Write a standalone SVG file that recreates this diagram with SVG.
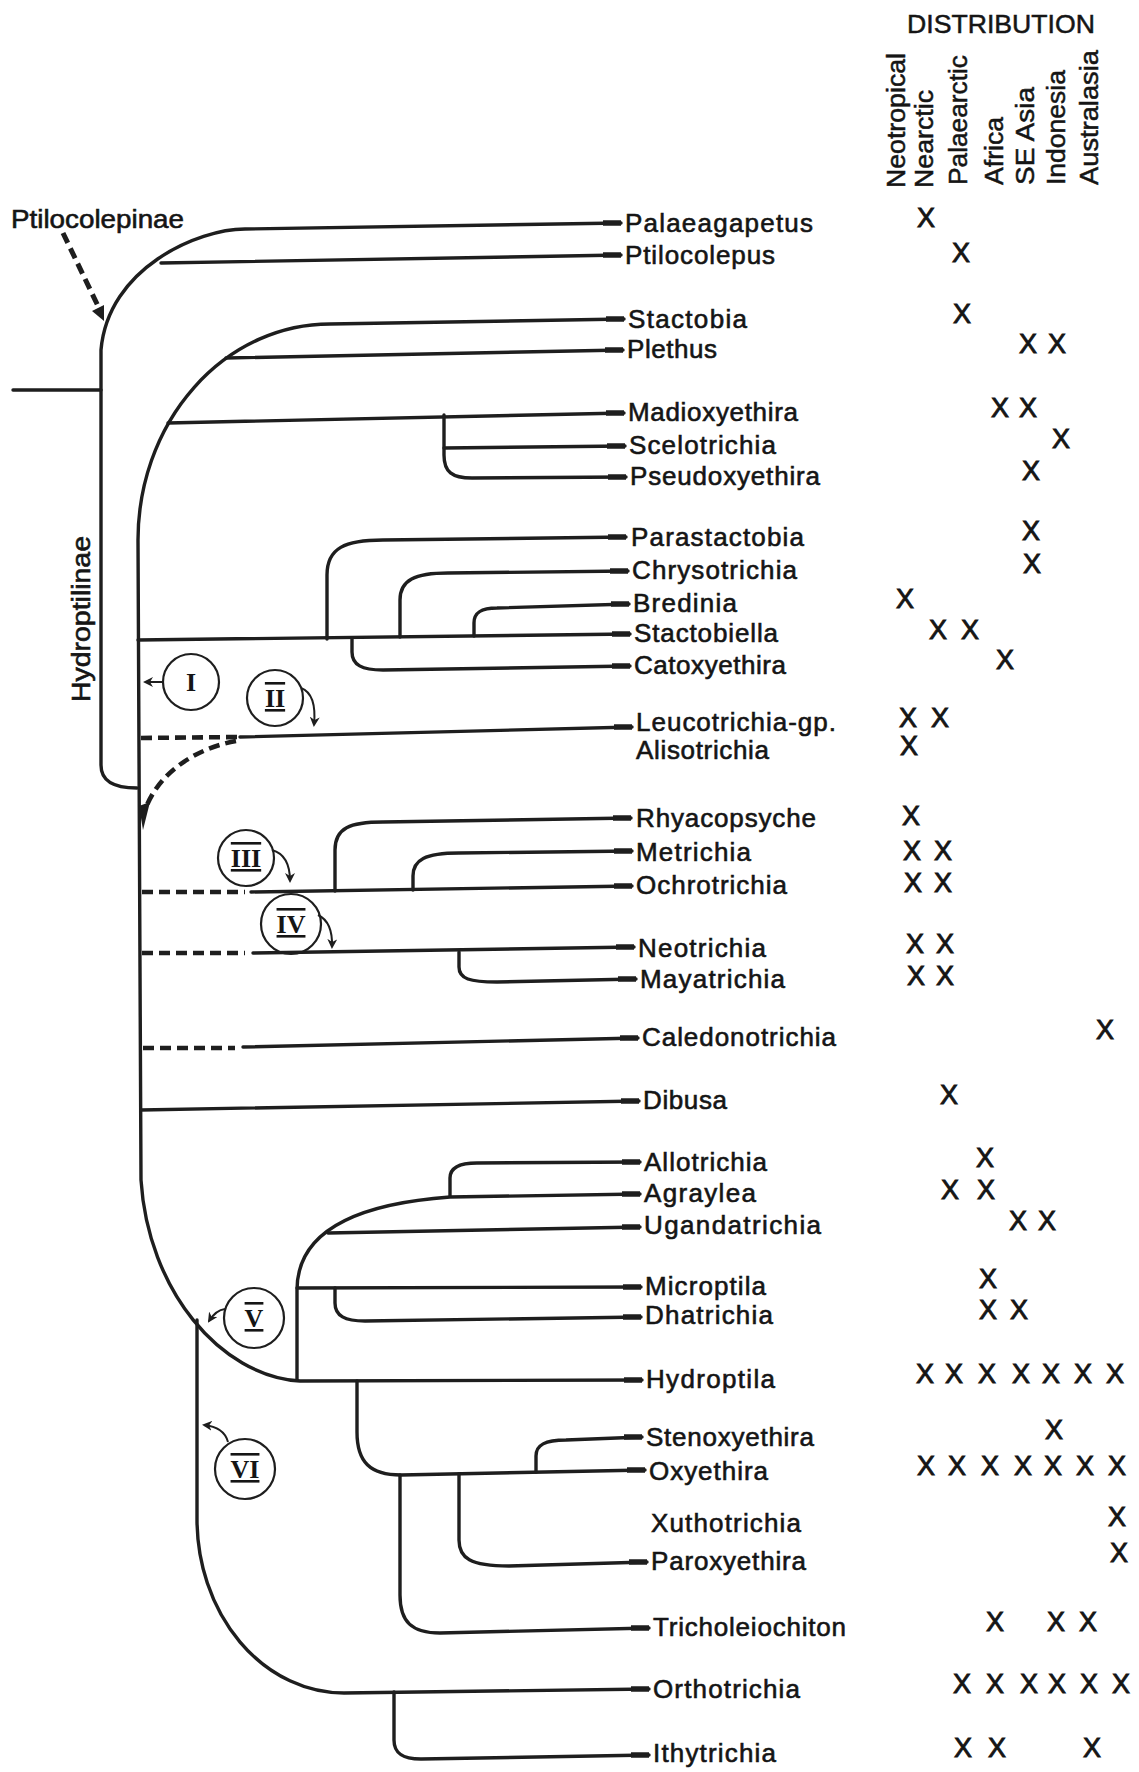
<svg xmlns="http://www.w3.org/2000/svg" width="1139" height="1772" viewBox="0 0 1139 1772">
<style>
.br{fill:none;stroke:#1e1e1e;stroke-width:3.4;stroke-linecap:round;stroke-linejoin:round}
.tk{fill:none;stroke:#1e1e1e;stroke-width:5.5}
.ds{fill:none;stroke:#1e1e1e;stroke-width:4.6;stroke-dasharray:11 6}
.th{fill:none;stroke:#1e1e1e;stroke-width:2}
.lb{font-family:"Liberation Sans",Arial,sans-serif;font-size:26px;fill:#151515;stroke:#151515;stroke-width:0.6}
.x{font-family:"Liberation Sans",Arial,sans-serif;font-size:27px;fill:#151515;stroke:#151515;stroke-width:0.9;text-anchor:middle}
.hd{font-family:"Liberation Sans",Arial,sans-serif;font-size:26px;fill:#151515;stroke:#151515;stroke-width:0.5}
.cir{fill:none;stroke:#1e1e1e;stroke-width:2.2}
.rn{font-family:"Liberation Serif","Times New Roman",serif;font-size:26px;font-weight:bold;fill:#151515;text-anchor:middle}
.bar{text-decoration:underline overline}
</style>
<defs>
<marker id="ah" viewBox="0 0 10 10" refX="8" refY="5" markerWidth="5" markerHeight="5" orient="auto" markerUnits="strokeWidth"><path d="M0,0 L10,5 L0,10 L3,5 z" fill="#1e1e1e"/></marker>
</defs>

<g id="connectors">
<path class="br" d="M13,390 L101,390"/>
<path class="br" d="M621,223 L245,229 C198,229 108,268 101,350 L101,765 C101,781 113,788 137,788"/>
<path class="br" d="M161,263 L621,255"/>
<path class="br" d="M624,319 L330,324 A192,216 0 0 0 138,540 L141,1180 C148,1290 220,1376 300,1381 L642,1380"/>
<path class="br" d="M226,358 L623,350"/>
<path class="br" d="M168,423 L624,413"/>
<path class="br" d="M444,415 L444,455 C444,472 452,478 472,478 L626,477"/>
<path class="br" d="M444,448 L625,446"/>
<path class="br" d="M138,640 L630,634"/>
<path class="br" d="M327,639 L327,575 C327,548 345,540 383,540 L626,537"/>
<path class="br" d="M400,637 L400,600 C400,580 415,573 448,573 L628,571"/>
<path class="br" d="M474,636 L474,623 C474,612 482,608 497,608 L629,604"/>
<path class="br" d="M352,638 L352,652 C352,665 362,670 383,670 L630,666"/>
<path class="ds" d="M141,738 L238,737"/>
<path class="br" d="M240,737 L632,727"/>
<path class="ds" d="M236,741 C198,748 162,770 147,805"/>
<path d="M139,806 L150,802 L143,830 z" fill="#1e1e1e"/>
<path class="br" d="M335,891 L335,850 C335,828 350,822 383,822 L631,818"/>
<path class="br" d="M413,890 L413,876 C413,860 425,853 459,853 L632,851"/>
<path class="ds" d="M142,892 L245,892"/>
<path class="br" d="M251,892 L632,886"/>
<path class="ds" d="M142,953 L245,953"/>
<path class="br" d="M253,953 L634,947"/>
<path class="br" d="M459,952 L459,967 C459,979 470,982 497,982 L636,979"/>
<path class="ds" d="M143,1048 L235,1048"/>
<path class="br" d="M243,1047 L638,1038"/>
<path class="br" d="M141,1110 L639,1101"/>
<path class="br" d="M297,1380 L297,1290 C297,1240 340,1205 450,1197 L640,1194"/>
<path class="br" d="M450,1196 L450,1178 C450,1167 460,1163 477,1163 L640,1162"/>
<path class="br" d="M328,1233 L640,1227"/>
<path class="br" d="M297,1288 L641,1287"/>
<path class="br" d="M335,1288 L335,1303 C335,1316 345,1321 365,1321 L641,1317"/>
<path class="br" d="M357,1381 L357,1432 C357,1462 370,1475 401,1475 L645,1470"/>
<path class="br" d="M400,1475 L400,1595 C400,1622 412,1633 440,1633 L649,1628"/>
<path class="br" d="M459,1474 L459,1540 C459,1558 470,1566 509,1566 L647,1562"/>
<path class="br" d="M536,1472 L536,1456 C536,1445 545,1440 566,1440 L642,1437"/>
<path class="br" d="M197,1320 L197,1519 A147,174 0 0 0 344,1693 L649,1689"/>
<path class="br" d="M394,1692 L394,1740 C394,1753 402,1759 421,1759 L649,1755"/>
<g class="tk">
<path d="M603,223 L621,223"/><path d="M603,255 L621,255"/><path d="M606,319 L624,319"/><path d="M605,350 L623,350"/>
<path d="M606,413 L624,413"/><path d="M607,446 L625,446"/><path d="M608,477 L626,477"/><path d="M608,537 L626,537"/>
<path d="M610,571 L628,571"/><path d="M611,604 L629,604"/><path d="M612,634 L630,634"/><path d="M612,666 L630,666"/>
<path d="M614,727 L632,727"/><path d="M613,818 L631,818"/><path d="M614,851 L632,851"/><path d="M614,886 L632,886"/>
<path d="M616,947 L634,947"/><path d="M618,979 L636,979"/><path d="M620,1038 L638,1038"/><path d="M621,1101 L639,1101"/>
<path d="M622,1162 L640,1162"/><path d="M622,1194 L640,1194"/><path d="M622,1227 L640,1227"/><path d="M623,1287 L641,1287"/>
<path d="M623,1317 L641,1317"/><path d="M624,1380 L642,1380"/><path d="M624,1437 L642,1437"/><path d="M627,1470 L645,1470"/>
<path d="M629,1562 L647,1562"/><path d="M631,1628 L649,1628"/><path d="M631,1689 L649,1689"/><path d="M631,1755 L649,1755"/>
</g>
<path class="ds" d="M63,233 L99,308" style="stroke-width:5"/>
<path d="M104,321 L104,305 L92,311 z" fill="#1e1e1e"/>
<path class="th" marker-end="url(#ah)" d="M163,682 L145,682"/>
<path class="th" marker-end="url(#ah)" d="M301,688 Q317,694 314,725"/>
<path class="th" marker-end="url(#ah)" d="M272,850 Q290,855 290,881"/>
<path class="th" marker-end="url(#ah)" d="M318,915 Q333,922 332,947"/>
<path class="th" marker-end="url(#ah)" d="M225,1309 Q216,1310 209,1321"/>
<path class="th" marker-end="url(#ah)" d="M228,1442 Q224,1427 204,1425"/>
</g>

<g id="groups">
<text class="lb" x="11" y="228" textLength="173" lengthAdjust="spacingAndGlyphs">Ptilocolepinae</text>
<text class="lb" transform="translate(90,702) rotate(-90)" textLength="166" lengthAdjust="spacingAndGlyphs">Hydroptilinae</text>
</g>

<g id="circles">
<g id="c1"><circle class="cir" cx="191" cy="682" r="28"/><text class="rn" x="191" y="691">I</text></g>
<g id="c2"><circle class="cir" cx="275" cy="698" r="28"/><text class="rn bar" x="275" y="707">II</text></g>
<g id="c3"><circle class="cir" cx="246" cy="858" r="28"/><text class="rn bar" x="246" y="867">III</text></g>
<g id="c4"><circle class="cir" cx="291" cy="924" r="30"/><text class="rn bar" x="291" y="933">IV</text></g>
<g id="c5"><circle class="cir" cx="254" cy="1318" r="30"/><text class="rn bar" x="254" y="1327">V</text></g>
<g id="c6"><circle class="cir" cx="245" cy="1469" r="30"/><text class="rn bar" x="245" y="1478">VI</text></g>
</g>

<g id="header">
<text class="hd" x="907" y="33" font-size="25" textLength="188" lengthAdjust="spacingAndGlyphs">DISTRIBUTION</text>
<text class="hd" transform="translate(905,188) rotate(-90)" textLength="135" lengthAdjust="spacingAndGlyphs">Neotropical</text>
<text class="hd" transform="translate(933,188) rotate(-90)" textLength="98" lengthAdjust="spacingAndGlyphs">Nearctic</text>
<text class="hd" transform="translate(967,185) rotate(-90)" textLength="130" lengthAdjust="spacingAndGlyphs">Palaearctic</text>
<text class="hd" transform="translate(1003,185) rotate(-90)" textLength="68" lengthAdjust="spacingAndGlyphs">Africa</text>
<text class="hd" transform="translate(1034,185) rotate(-90)" textLength="98" lengthAdjust="spacingAndGlyphs">SE Asia</text>
<text class="hd" transform="translate(1065,185) rotate(-90)" textLength="115" lengthAdjust="spacingAndGlyphs">Indonesia</text>
<text class="hd" transform="translate(1098,185) rotate(-90)" textLength="135" lengthAdjust="spacingAndGlyphs">Australasia</text>
</g>

<g id="n-palaeagapetus"><text class="lb" x="625" y="232" textLength="188">Palaeagapetus</text><text class="x" x="926" y="227">X</text></g>
<g id="n-ptilocolepus"><text class="lb" x="625" y="264" textLength="150">Ptilocolepus</text><text class="x" x="961" y="262">X</text></g>
<g id="n-stactobia"><text class="lb" x="628" y="328" textLength="119">Stactobia</text><text class="x" x="962" y="323">X</text></g>
<g id="n-plethus"><text class="lb" x="627" y="358" textLength="90">Plethus</text><text class="x" x="1028" y="353">X</text><text class="x" x="1057" y="353">X</text></g>
<g id="n-madioxyethira"><text class="lb" x="628" y="421" textLength="170">Madioxyethira</text><text class="x" x="1000" y="417">X</text><text class="x" x="1028" y="417">X</text></g>
<g id="n-scelotrichia"><text class="lb" x="629" y="454" textLength="147">Scelotrichia</text><text class="x" x="1061" y="448">X</text></g>
<g id="n-pseudoxyethira"><text class="lb" x="630" y="485" textLength="190">Pseudoxyethira</text><text class="x" x="1031" y="480">X</text></g>
<g id="n-parastactobia"><text class="lb" x="631" y="546" textLength="173">Parastactobia</text><text class="x" x="1031" y="540">X</text></g>
<g id="n-chrysotrichia"><text class="lb" x="632" y="579" textLength="165">Chrysotrichia</text><text class="x" x="1032" y="573">X</text></g>
<g id="n-bredinia"><text class="lb" x="633" y="612" textLength="104">Bredinia</text><text class="x" x="905" y="608">X</text></g>
<g id="n-stactobiella"><text class="lb" x="634" y="642" textLength="144">Stactobiella</text><text class="x" x="938" y="639">X</text><text class="x" x="970" y="639">X</text></g>
<g id="n-catoxyethira"><text class="lb" x="634" y="674" textLength="152">Catoxyethira</text><text class="x" x="1005" y="669">X</text></g>
<g id="n-leucotrichia"><text class="lb" x="636" y="731" textLength="200">Leucotrichia-gp.</text><text class="x" x="908" y="727">X</text><text class="x" x="940" y="727">X</text></g>
<g id="n-alisotrichia"><text class="lb" x="636" y="759" textLength="133">Alisotrichia</text><text class="x" x="909" y="755">X</text></g>
<g id="n-rhyacopsyche"><text class="lb" x="636" y="827" textLength="180">Rhyacopsyche</text><text class="x" x="911" y="825">X</text></g>
<g id="n-metrichia"><text class="lb" x="636" y="861" textLength="115">Metrichia</text><text class="x" x="912" y="860">X</text><text class="x" x="943" y="860">X</text></g>
<g id="n-ochrotrichia"><text class="lb" x="636" y="894" textLength="151">Ochrotrichia</text><text class="x" x="913" y="892">X</text><text class="x" x="943" y="892">X</text></g>
<g id="n-neotrichia"><text class="lb" x="638" y="957" textLength="128">Neotrichia</text><text class="x" x="915" y="953">X</text><text class="x" x="945" y="953">X</text></g>
<g id="n-mayatrichia"><text class="lb" x="640" y="988" textLength="145">Mayatrichia</text><text class="x" x="916" y="985">X</text><text class="x" x="945" y="985">X</text></g>
<g id="n-caledonotrichia"><text class="lb" x="642" y="1046" textLength="194">Caledonotrichia</text><text class="x" x="1105" y="1039">X</text></g>
<g id="n-dibusa"><text class="lb" x="643" y="1109" textLength="84">Dibusa</text><text class="x" x="949" y="1104">X</text></g>
<g id="n-allotrichia"><text class="lb" x="644" y="1171" textLength="123">Allotrichia</text><text class="x" x="985" y="1167">X</text></g>
<g id="n-agraylea"><text class="lb" x="644" y="1202" textLength="112">Agraylea</text><text class="x" x="950" y="1199">X</text><text class="x" x="986" y="1199">X</text></g>
<g id="n-ugandatrichia"><text class="lb" x="644" y="1234" textLength="177">Ugandatrichia</text><text class="x" x="1018" y="1230">X</text><text class="x" x="1047" y="1230">X</text></g>
<g id="n-microptila"><text class="lb" x="645" y="1295" textLength="121">Microptila</text><text class="x" x="988" y="1288">X</text></g>
<g id="n-dhatrichia"><text class="lb" x="645" y="1324" textLength="128">Dhatrichia</text><text class="x" x="988" y="1319">X</text><text class="x" x="1019" y="1319">X</text></g>
<g id="n-hydroptila"><text class="lb" x="646" y="1388" textLength="129">Hydroptila</text><text class="x" x="925" y="1383">X</text><text class="x" x="954" y="1383">X</text><text class="x" x="987" y="1383">X</text><text class="x" x="1021" y="1383">X</text><text class="x" x="1051" y="1383">X</text><text class="x" x="1083" y="1383">X</text><text class="x" x="1115" y="1383">X</text></g>
<g id="n-stenoxyethira"><text class="lb" x="646" y="1446" textLength="168">Stenoxyethira</text><text class="x" x="1054" y="1439">X</text></g>
<g id="n-oxyethira"><text class="lb" x="649" y="1480" textLength="119">Oxyethira</text><text class="x" x="926" y="1475">X</text><text class="x" x="957" y="1475">X</text><text class="x" x="990" y="1475">X</text><text class="x" x="1023" y="1475">X</text><text class="x" x="1053" y="1475">X</text><text class="x" x="1085" y="1475">X</text><text class="x" x="1117" y="1475">X</text></g>
<g id="n-xuthotrichia"><text class="lb" x="651" y="1532" textLength="150">Xuthotrichia</text><text class="x" x="1117" y="1526">X</text></g>
<g id="n-paroxyethira"><text class="lb" x="651" y="1570" textLength="155">Paroxyethira</text><text class="x" x="1119" y="1562">X</text></g>
<g id="n-tricholeiochiton"><text class="lb" x="653" y="1636" textLength="193">Tricholeiochiton</text><text class="x" x="995" y="1631">X</text><text class="x" x="1056" y="1631">X</text><text class="x" x="1088" y="1631">X</text></g>
<g id="n-orthotrichia"><text class="lb" x="653" y="1698" textLength="147">Orthotrichia</text><text class="x" x="962" y="1693">X</text><text class="x" x="995" y="1693">X</text><text class="x" x="1029" y="1693">X</text><text class="x" x="1057" y="1693">X</text><text class="x" x="1089" y="1693">X</text><text class="x" x="1121" y="1693">X</text></g>
<g id="n-ithytrichia"><text class="lb" x="653" y="1762" textLength="123">Ithytrichia</text><text class="x" x="963" y="1757">X</text><text class="x" x="997" y="1757">X</text><text class="x" x="1092" y="1757">X</text></g>
</svg>
